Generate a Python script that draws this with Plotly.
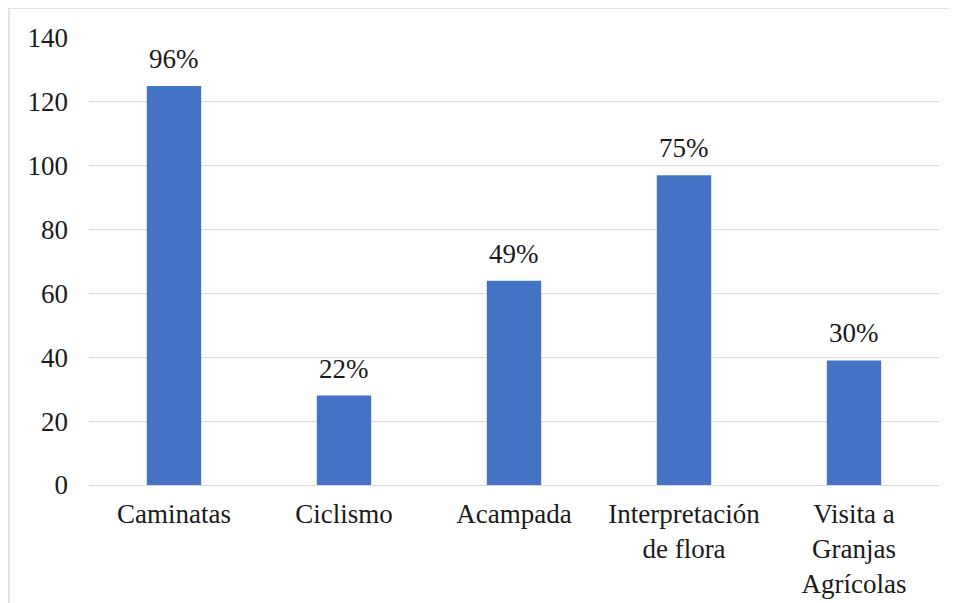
import plotly.graph_objects as go

categories = ["Caminatas", "Ciclismo", "Acampada", "Interpretación<br>de flora", "Visita a<br>Granjas<br>Agrícolas"]
values = [125, 28, 64, 97, 39]
pct_labels = ["96%", "22%", "49%", "75%", "30%"]
y_ticks = [0, 20, 40, 60, 80, 100, 120, 140]

FONT = "Liberation Serif"
TXT = "#1a1a1a"
FS = 27

fig = go.Figure()
fig.add_trace(go.Bar(x=categories, y=values, marker=dict(color="#4472C4", line=dict(width=0)),
                     hoverinfo="skip"))

for c, v, t in zip(categories, values, pct_labels):
    fig.add_annotation(x=c, y=v, text=t, showarrow=False, yanchor="middle", yshift=27,
                       font=dict(family=FONT, size=FS, color=TXT))

fig.add_shape(type="rect", xref="paper", yref="paper", x0=-0.0941, x1=1.2, y0=-0.5, y1=1.067,
              line=dict(color="#d9d9d9", width=1.5), fillcolor="rgba(0,0,0,0)", layer="below")

fig.update_layout(
    width=957, height=603,
    margin=dict(l=81, r=26, t=30, b=126),
    paper_bgcolor="white", plot_bgcolor="white",
    bargap=0.68,
    showlegend=False,
    font=dict(family=FONT, size=FS, color=TXT),
)
fig.update_yaxes(range=[0, 140], tickvals=y_ticks, showgrid=True, gridcolor="#d9d9d9", gridwidth=1.2,
                 zeroline=False, showline=False, ticks="", ticklabelstandoff=20,
                 tickfont=dict(family=FONT, size=FS, color=TXT))
fig.update_xaxes(showline=True, linecolor="#d9d9d9", linewidth=1.2, ticks="", ticklabelstandoff=4,
                 tickfont=dict(family=FONT, size=FS, color=TXT), tickangle=0)

fig.write_html("out.html")
